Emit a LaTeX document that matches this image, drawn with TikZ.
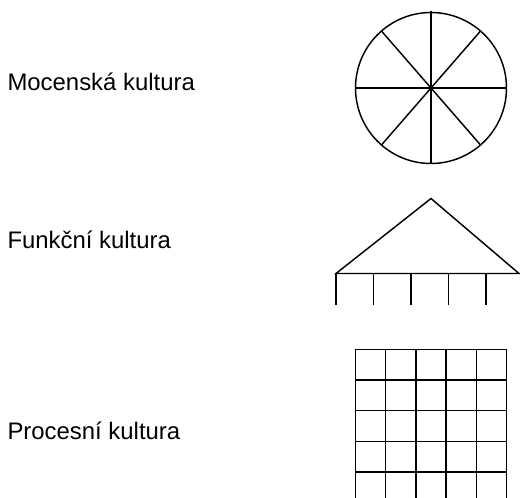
\documentclass[tikz,border=0pt]{standalone}
\usepackage{fontspec}
\setmainfont{Liberation Sans}
\usetikzlibrary{calc}

\begin{document}
\begin{tikzpicture}[
    x=0.03cm, y=-0.03cm,
    culttext/.style={anchor=base west, inner sep=0pt,
                     font=\fontsize{20.4}{24}\selectfont},
    outline/.style={line width=1.25pt}
]
    \useasboundingbox (0,0) rectangle (520,498);

    \node[culttext] (power)   at (7.3, 90.7)  {Mocenská kultura};
    \node[culttext] (role)    at (7.3, 248.3) {Funkční kultura};
    \node[culttext] (process) at (7.3, 439)   {Procesní kultura};

    % wheel
    \coordinate (hub) at (431, 88);
    \draw[outline] (hub) circle [radius=75.5];
    \foreach \a in {0, 49, 90, 131, 180, 229, 311}
        \draw[outline] (hub) -- ++(\a:75.5);
    \draw[outline] (hub) -- ++(270:77.5);

    % temple: roof and pillars
    \coordinate (roofL) at (336, 273.5);
    \coordinate (roofT) at (431, 198.5);
    \coordinate (roofR) at (519, 273.5);
    \draw[outline] (roofL) -- (roofT) -- (roofR) -- cycle;
    \foreach \i in {0,...,4}
        \draw[outline] ($(roofL)+(37.5*\i,0)$) -- ++(0,31.5);

    % net
    \foreach \i in {0,...,5}
        \draw[outline] (355.5+30.2*\i, 349.3) -- (355.5+30.2*\i, 498);
    \foreach \j in {0,...,4}
        \draw[outline] (355.5, 349.3+30.7*\j) -- (506.5, 349.3+30.7*\j);
\end{tikzpicture}
\end{document}
